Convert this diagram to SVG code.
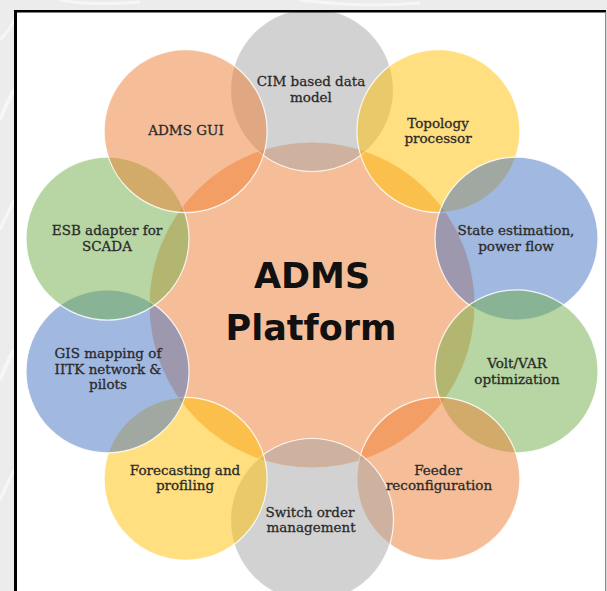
<svg xmlns="http://www.w3.org/2000/svg" width="607" height="591" viewBox="0 0 607 591">
<defs>
<style>
.c{stroke:#ffffff;stroke-width:1.2;stroke-opacity:0.85}
.or{fill:#ED7D31;fill-opacity:0.5}
.gy{fill:#A5A5A5;fill-opacity:0.5}
.ye{fill:#FFC000;fill-opacity:0.5}
.bl{fill:#4472C4;fill-opacity:0.5}
.gr{fill:#70AD47;fill-opacity:0.5}
.lbl{font-family:"DejaVu Serif","Liberation Serif",serif;font-size:13.5px;fill:#2a2a2a;stroke:#2a2a2a;stroke-width:0.3;text-anchor:middle}
.big{font-family:"DejaVu Sans","Open Sans",sans-serif;font-weight:bold;font-size:35px;fill:#111;text-anchor:middle}
.streak{fill:none;stroke:#ffffff;stroke-opacity:0.55}
</style>
<clipPath id="box"><rect x="16" y="12" width="590" height="579"/></clipPath>
</defs>
<rect x="0" y="0" width="607" height="591" fill="#ececec"/>
<g id="background-streaks">
<path class="streak" d="M0 40 Q10 30 14 20" stroke-width="3"/>
<path class="streak" d="M0 120 Q8 100 14 90" stroke-width="4"/>
<path class="streak" d="M0 230 Q9 210 14 200" stroke-width="3"/>
<path class="streak" d="M0 380 Q8 360 14 350" stroke-width="4"/>
<path class="streak" d="M0 500 Q9 480 14 470" stroke-width="3"/>
<path class="streak" d="M60 0 Q90 6 140 2" stroke-width="3"/>
<path class="streak" d="M300 0 Q360 8 420 3" stroke-width="3"/>
</g>
<rect x="16" y="12" width="590" height="579" fill="#ffffff"/>
<g clip-path="url(#box)">
<g id="center-node"><circle class="c or" cx="312" cy="305" r="163"/></g>
<g id="node-cim"><circle class="c gy" cx="312" cy="90" r="81.5"/></g>
<g id="node-topology"><circle class="c ye" cx="438.4" cy="131.1" r="81.5"/></g>
<g id="node-state"><circle class="c bl" cx="516.5" cy="238.6" r="81.5"/></g>
<g id="node-volt"><circle class="c gr" cx="516.5" cy="371.4" r="81.5"/></g>
<g id="node-feeder"><circle class="c or" cx="438.4" cy="478.9" r="81.5"/></g>
<g id="node-switch"><circle class="c gy" cx="312" cy="520" r="81.5"/></g>
<g id="node-forecasting"><circle class="c ye" cx="185.6" cy="478.9" r="81.5"/></g>
<g id="node-gis"><circle class="c bl" cx="107.5" cy="371.4" r="81.5"/></g>
<g id="node-esb"><circle class="c gr" cx="107.5" cy="238.6" r="81.5"/></g>
<g id="node-gui"><circle class="c or" cx="185.6" cy="131.1" r="81.5"/></g>
</g>
<g id="connectors"></g>
<g id="labels">
<text class="big" x="312" y="288">ADMS</text>
<text class="big" x="311" y="340">Platform</text>
<text class="lbl" x="186" y="135">ADMS GUI</text>
<text class="lbl" x="311" y="86">CIM based data</text>
<text class="lbl" x="311" y="102">model</text>
<text class="lbl" x="438" y="128">Topology</text>
<text class="lbl" x="438" y="143">processor</text>
<text class="lbl" x="516" y="235">State estimation,</text>
<text class="lbl" x="516" y="251">power flow</text>
<text class="lbl" x="517" y="368">Volt/VAR</text>
<text class="lbl" x="517" y="384">optimization</text>
<text class="lbl" x="438" y="475">Feeder</text>
<text class="lbl" x="439" y="490">reconfiguration</text>
<text class="lbl" x="310" y="517">Switch order</text>
<text class="lbl" x="311" y="532">management</text>
<text class="lbl" x="185" y="475">Forecasting and</text>
<text class="lbl" x="185" y="490">profiling</text>
<text class="lbl" x="108" y="358">GIS mapping of</text>
<text class="lbl" x="108" y="374">IITK network &amp;</text>
<text class="lbl" x="108" y="389">pilots</text>
<text class="lbl" x="107" y="235">ESB adapter for</text>
<text class="lbl" x="107" y="251">SCADA</text>
</g>
<g id="frame">
<rect x="14" y="10" width="592" height="2.5" fill="#000"/>
<rect x="14" y="10" width="3" height="581" fill="#000"/>
<rect x="605" y="12" width="1.2" height="579" fill="#8a8a8a"/>
</g>
</svg>
